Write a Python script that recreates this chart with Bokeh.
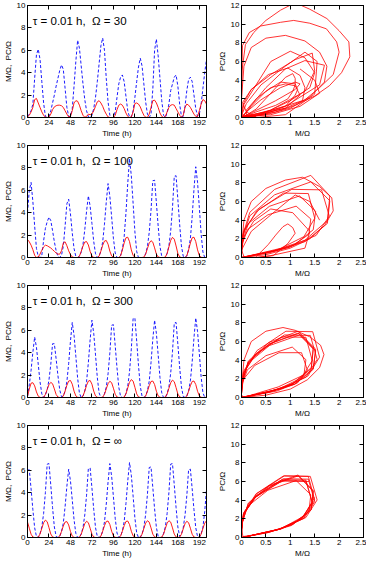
from bokeh.plotting import figure
from bokeh.layouts import column, row
from bokeh.models import Label, LinearAxis, FixedTicker, CustomJSTickFormatter, Range1d
from bokeh.embed import file_html
from bokeh.resources import INLINE

FONT = "Liberation Sans"

time_h = list(range(0, 201, 2))

# ---- Omega = 30 ----
M_30 = [0.05, 0.2, 0.5, 0.9, 1.6, 1.7, 1.3, 0.9, 0.5, 0.2,
        0.03, 0, 0.05, 0.3, 0.7, 0.95, 1.05, 1.1, 1.1, 1.05,
        0.9, 0.6, 0.3, 0.05, 0.1, 0.6, 1.3, 1.5, 1.45, 1.1,
        0.6, 0.2, 0.02, 0.1, 0.3, 0.25, 0.3, 0.6, 1.0, 1.4,
        1.5, 1.3, 1.0, 0.6, 0.3, 0.05, 0, 0, 0, 0.2,
        0.7, 1.1, 1.2, 1.1, 0.8, 0.4, 0.1, 0, 0.05, 0.5,
        1.25, 1.3, 1.2, 0.95, 0.55, 0.2, 0.03, 0, 0.3, 0.9,
        1.5, 1.55, 1.3, 0.9, 0.4, 0.1, 0, 0.1, 0.5, 0.9,
        1.1, 1.15, 1.1, 0.8, 0.5, 0.2, 0.02, 0.2, 0.9, 1.2,
        1.1, 0.9, 0.6, 0.3, 0.1, 0.1, 0.6, 1.2, 1.6, 1.5,
        1.2]
P_30 = [0.1, 0.3, 0.6, 1.2, 3.5, 5.6, 6.1, 5.2, 3.2, 1.3,
        0.1, 0, 0.1, 0.6, 1.3, 2.0, 2.8, 3.5, 4.2, 4.7,
        4.3, 2.6, 0.9, 0.1, 0.1, 0.8, 2.8, 5.0, 6.9, 6.2,
        4.6, 3.0, 1.6, 0.6, 0.05, 0, 0.2, 0.8, 1.8, 3.2,
        4.8, 6.4, 7.1, 6.0, 3.5, 1.4, 0.2, 0, 0, 0.5,
        1.8, 3.0, 3.6, 3.8, 3.2, 1.9, 0.6, 0.05, 0.05, 0.6,
        1.8, 3.2, 4.5, 5.3, 4.6, 3.0, 1.4, 0.3, 0, 0.3,
        2.5, 6.0, 7.0, 5.5, 3.5, 1.5, 0.2, 0, 0.4, 1.2,
        2.4, 3.0, 3.6, 3.8, 2.8, 1.2, 0.1, 0.1, 1.0, 2.4,
        3.4, 3.6, 3.2, 2.0, 0.8, 0.1, 0.3, 1.2, 2.6, 4.0,
        5.2]

# ---- Omega = 100 ----
M_100 = [1.6, 1.4, 1.1, 0.7, 0.2, 0, 0.05, 0.3, 0.65, 0.95,
         1.1, 1.05, 0.95, 0.85, 0.7, 0.55, 0.4, 0.3, 0.3, 0.6,
         1.3, 1.4, 1.05, 0.6, 0.25, 0.05, 0, 0, 0, 0.12,
         0.54, 1.02, 1.38, 1.42, 1.12, 0.54, 0.13, 0.01, 0, 0,
         0.12, 0.57, 1.09, 1.47, 1.52, 1.19, 0.57, 0.14, 0.02, 0,
         0, 0, 0.15, 0.68, 1.3, 1.76, 1.81, 1.42, 0.68, 0.17,
         0.02, 0, 0, 0, 0, 0.03, 0.3, 0.8, 1.28, 1.5,
         1.37, 0.86, 0.3, 0.05, 0, 0, 0, 0.04, 0.36, 0.95,
         1.53, 1.8, 1.64, 1.03, 0.36, 0.05, 0, 0, 0, 0.15,
         0.68, 1.3, 1.76, 1.81, 1.42, 0.68, 0.17, 0.02, 0, 0,
         0]
P_100 = [4.0, 6.0, 6.7, 5.0, 2.8, 0.8, 0.1, 0, 0.2, 1.5,
         2.6, 3.2, 3.6, 3.3, 2.4, 1.4, 0.6, 0.1, 0, 0.2,
         1.0, 2.8, 4.8, 5.2, 3.9, 2.2, 0.8, 0.1, 0, 0.11,
         0.47, 1.16, 2.48, 4.13, 5.5, 4.57, 3.03, 1.43, 0.33, 0,
         0.13, 0.56, 1.39, 2.97, 4.95, 6.6, 5.48, 3.63, 1.72, 0.4,
         0, 0, 0.18, 0.75, 1.85, 3.96, 6.6, 8.8, 7.3, 4.84,
         2.29, 0.53, 0, 0, 0, 0, 0.35, 0.98, 2.24, 4.2,
         6.85, 6.9, 4.9, 2.8, 0.98, 0.11, 0, 0, 0.37, 1.04,
         2.37, 4.44, 7.25, 7.3, 5.18, 2.96, 1.04, 0.11, 0, 0.16,
         0.69, 1.7, 3.65, 6.08, 8.1, 6.72, 4.46, 2.11, 0.49, 0,
         0]

# ---- Omega = 300 ----
M_300 = [0.1, 0.75, 1.28, 1.32, 1.04, 0.5, 0.12, 0.01, 0, 0.03,
         0.27, 0.72, 1.15, 1.35, 1.23, 0.77, 0.27, 0.04, 0, 0,
         0.12, 0.57, 1.09, 1.47, 1.52, 1.19, 0.57, 0.14, 0.02, 0,
         0, 0.12, 0.57, 1.09, 1.47, 1.52, 1.19, 0.57, 0.14, 0.02,
         0, 0, 0.03, 0.29, 0.77, 1.23, 1.45, 1.32, 0.83, 0.29,
         0.04, 0, 0, 0, 0.03, 0.32, 0.85, 1.36, 1.6, 1.46,
         0.91, 0.32, 0.05, 0, 0, 0, 0.12, 0.56, 1.05, 1.43,
         1.47, 1.16, 0.56, 0.14, 0.02, 0, 0, 0.03, 0.31, 0.82,
         1.32, 1.55, 1.41, 0.88, 0.31, 0.05, 0, 0, 0, 0.12,
         0.56, 1.05, 1.43, 1.47, 1.16, 0.56, 0.14, 0.02, 0, 0,
         0.03]
P_300 = [0.1, 1.13, 2.43, 4.05, 5.4, 4.48, 2.97, 1.4, 0.32, 0,
         0.25, 0.69, 1.57, 2.94, 4.8, 4.8, 3.43, 1.96, 0.69, 0.07,
         0.13, 0.57, 1.41, 3.02, 5.03, 6.7, 5.56, 3.69, 1.74, 0.4,
         0, 0.14, 0.59, 1.45, 3.11, 5.18, 6.9, 5.73, 3.8, 1.79,
         0.41, 0, 0, 0.33, 0.92, 2.11, 3.96, 6.45, 6.5, 4.62,
         2.64, 0.92, 0.1, 0, 0, 0.36, 1.01, 2.3, 4.32, 7.05,
         7.1, 5.04, 2.88, 1.01, 0.11, 0, 0.14, 0.59, 1.45, 3.11,
         5.18, 6.9, 5.73, 3.8, 1.79, 0.41, 0, 0, 0.34, 0.95,
         2.18, 4.08, 6.65, 6.7, 4.76, 2.72, 0.95, 0.1, 0, 0.14,
         0.6, 1.49, 3.2, 5.33, 7.1, 5.89, 3.91, 1.85, 0.43, 0,
         0]

# ---- Omega = infinity ----
M_inf = [1.38, 0.83, 0.29, 0.04, 0, 0, 0.03, 0.31, 0.82, 1.32,
         1.55, 1.41, 0.88, 0.31, 0.05, 0, 0, 0, 0.12, 0.54,
         1.02, 1.38, 1.42, 1.12, 0.54, 0.13, 0.01, 0, 0, 0.03,
         0.29, 0.77, 1.23, 1.45, 1.32, 0.83, 0.29, 0.04, 0, 0,
         0, 0.12, 0.56, 1.05, 1.43, 1.47, 1.16, 0.56, 0.14, 0.02,
         0, 0, 0.12, 0.56, 1.05, 1.43, 1.47, 1.16, 0.56, 0.14,
         0.02, 0, 0, 0.03, 0.3, 0.8, 1.28, 1.5, 1.37, 0.86,
         0.3, 0.05, 0, 0, 0, 0.03, 0.3, 0.8, 1.28, 1.5,
         1.37, 0.86, 0.3, 0.05, 0, 0.03, 0.29, 0.77, 1.23, 1.45,
         1.32, 0.83, 0.29, 0.04, 0, 0, 0.03, 0.3, 0.8, 1.28,
         1.5]
P_inf = [6.0, 6.05, 4.34, 2.48, 0.87, 0.09, 0, 0.34, 0.94, 2.14,
         4.02, 6.55, 6.6, 4.69, 2.68, 0.94, 0.1, 0, 0.12, 0.52,
         1.28, 2.75, 4.58, 6.1, 5.06, 3.36, 1.59, 0.37, 0, 0,
         0.32, 0.88, 2.02, 3.78, 6.15, 6.2, 4.41, 2.52, 0.88, 0.09,
         0, 0.13, 0.56, 1.39, 2.97, 4.95, 6.6, 5.48, 3.63, 1.72,
         0.4, 0, 0.13, 0.57, 1.41, 3.02, 5.03, 6.7, 5.56, 3.69,
         1.74, 0.4, 0, 0, 0.32, 0.9, 2.05, 3.84, 6.25, 6.3,
         4.48, 2.56, 0.9, 0.1, 0, 0, 0.34, 0.94, 2.14, 4.02,
         6.55, 6.6, 4.69, 2.68, 0.94, 0.1, 0.31, 0.87, 1.98, 3.72,
         6.05, 6.1, 4.34, 2.48, 0.87, 0.09, 0, 0.33, 0.91, 2.3,
         4.3]

# ---- extra phase-plane loops ----
PH30_A_M = [0, 0.3, 0.7, 1.1, 1.5, 1.8, 2.05, 2.22, 2.2, 2.0, 1.75, 1.4, 1.1, 0.8, 0.5, 0.25, 0.08, 0.01, 0]
PH30_A_P = [0, 0.2, 0.6, 1.3, 2.3, 3.4, 4.8, 6.5, 8.1, 9.3, 10.6, 11.6, 12.3, 11.5, 10.4, 9.1, 7.8, 5.0, 1.5]
PH30_B_M = [0, 0.4, 0.9, 1.3, 1.6, 1.88, 2.0, 1.95, 1.74, 1.4, 1.07, 0.8, 0.39, 0.16, 0.02, 0]
PH30_B_P = [0, 0.4, 1.0, 1.9, 3.2, 4.6, 7.0, 8.1, 9.5, 10.1, 10.4, 10.2, 9.8, 9.1, 7.7, 3.0]
PH30_C_M = [0, 0.5, 1.0, 1.4, 1.7, 1.75, 1.6, 1.3, 0.9, 0.5, 0.2, 0.05, 0]
PH30_C_P = [0, 0.3, 1.0, 2.2, 3.8, 5.5, 7.0, 8.2, 8.8, 8.5, 7.5, 5.5, 2.0]
PH100_A_M = [0, 0.5, 1.0, 1.4, 1.7, 1.88, 1.85, 1.6, 1.25, 0.9, 0.5, 0.2, 0.05, 0]
PH100_A_P = [0, 0.3, 1.0, 2.0, 3.4, 5.0, 6.4, 7.6, 8.6, 8.3, 7.4, 6.0, 4.0, 1.0]
PH300_A_M = [0, 0.5, 1.0, 1.35, 1.6, 1.69, 1.62, 1.4, 1.1, 0.85, 0.5, 0.2, 0.05, 0]
PH300_A_P = [0, 0.25, 0.9, 1.9, 3.2, 4.6, 5.6, 6.5, 7.2, 7.5, 7.1, 6.0, 4.0, 1.0]

time_ticks = [0, 24, 48, 72, 96, 120, 144, 168, 192]
ts_y_ticks = [0, 2, 4, 6, 8, 10]
ph_x_ticks = [0, 0.5, 1, 1.5, 2, 2.5]
ph_y_ticks = [0, 2, 4, 6, 8, 10, 12]
omega_labels = ["30", "100", "300", "\u221e"]
ts_ylabel = "M/\u03a9,\u00a0 PC/\u03a9"
ph_ylabel = "PC/\u03a9"

for arr in (M_30, P_30, M_100, P_100, M_300, P_300, M_inf, P_inf):
    assert len(arr) == len(time_h), len(arr)

ROW_H = 140
TOP = 5
BOT = 22


def mirror_axis(ticks):
    return LinearAxis(ticker=FixedTicker(ticks=ticks), major_tick_in=4, major_tick_out=0,
                      minor_tick_line_color=None, major_label_text_font_size="1px",
                      major_label_text_color=None, major_label_standoff=0,
                      axis_line_color="black", major_tick_line_color="black")


def style(p, xt, yt, xlabel, ylabel, xfmt=None):
    p.xaxis.ticker = FixedTicker(ticks=xt)
    p.yaxis.ticker = FixedTicker(ticks=yt)
    if xfmt is not None:
        p.xaxis.formatter = xfmt
    p.xaxis.axis_label = xlabel
    p.yaxis.axis_label = ylabel
    for ax in p.xaxis + p.yaxis:
        ax.major_tick_in = 4
        ax.major_tick_out = 0
        ax.minor_tick_line_color = None
        ax.axis_line_color = "black"
        ax.major_tick_line_color = "black"
        ax.major_label_text_font = FONT
        ax.major_label_text_font_size = "8px"
        ax.major_label_text_color = "black"
        ax.major_label_standoff = 2
        ax.axis_label_text_font = FONT
        ax.axis_label_text_font_size = "8px"
        ax.axis_label_text_font_style = "normal"
        ax.axis_label_text_color = "black"
        ax.axis_label_standoff = 1
    p.add_layout(mirror_axis(yt), "right")
    p.add_layout(mirror_axis(xt), "above")
    p.grid.visible = False
    p.outline_line_color = "black"


def ts_fig(M, P, omega):
    p = figure(width=214, height=ROW_H, x_range=Range1d(0, 200), y_range=Range1d(0, 10),
               output_backend="svg", toolbar_location=None,
               min_border_left=22, min_border_right=8, min_border_top=TOP, min_border_bottom=BOT)
    p.line(time_h, P, line_color="#0000ff", line_width=0.9, line_dash="3 2")
    p.line(time_h, M, line_color="#ff0000", line_width=0.9)
    style(p, time_ticks, ts_y_ticks, "Time (h)", ts_ylabel)
    p.add_layout(Label(x=6, y=8.6, text="\u03c4 = 0.01 h,\u00a0 \u03a9 = " + omega,
                       text_font=FONT, text_font_size="11.5px", text_baseline="middle",
                       text_color="black"))
    return p


def ph_fig(M, P, extras):
    p = figure(width=152, height=ROW_H, x_range=Range1d(0, 2.5), y_range=Range1d(0, 12),
               output_backend="svg", toolbar_location=None,
               min_border_left=25, min_border_right=3, min_border_top=TOP, min_border_bottom=BOT)
    p.line(M, P, line_color="#ff0000", line_width=0.8)
    for em, ep in extras:
        p.line(em, ep, line_color="#ff0000", line_width=0.8)
    style(p, ph_x_ticks, ph_y_ticks, "M/\u03a9", ph_ylabel,
          xfmt=CustomJSTickFormatter(code="return String(tick);"))
    return p


layout = column(
    row(ts_fig(M_30, P_30, omega_labels[0]),
        ph_fig(M_30, P_30, [(PH30_A_M, PH30_A_P), (PH30_B_M, PH30_B_P), (PH30_C_M, PH30_C_P)])),
    row(ts_fig(M_100, P_100, omega_labels[1]),
        ph_fig(M_100, P_100, [(PH100_A_M, PH100_A_P)])),
    row(ts_fig(M_300, P_300, omega_labels[2]),
        ph_fig(M_300, P_300, [(PH300_A_M, PH300_A_P)])),
    row(ts_fig(M_inf, P_inf, omega_labels[3]),
        ph_fig(M_inf, P_inf, [])),
)

open("out.html", "w").write(file_html(layout, INLINE))
